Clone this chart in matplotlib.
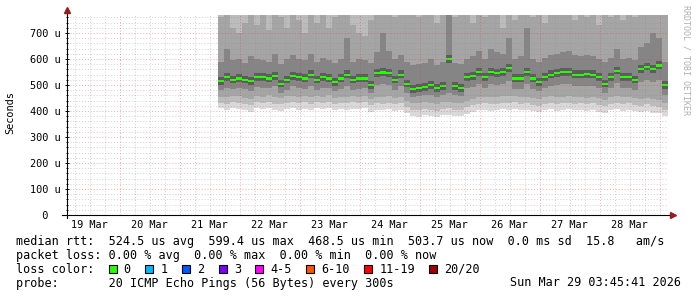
import numpy as np
import pandas as pd
import matplotlib
matplotlib.use("Agg")
import matplotlib.pyplot as plt
from matplotlib.patches import Rectangle

# ---- values (microseconds) ----
sample_start = "2026-03-21 15:30"
sample_step = "144min"

median_us = [515, 530, 520, 525, 520, 515, 530, 530, 525, 535,
             505, 520, 535, 530, 525, 540, 520, 530, 525, 512,
             525, 540, 520, 525, 525, 500, 545, 548, 545, 520,
             540, 505, 485, 488, 492, 500, 488, 495, 600, 495,
             488, 530, 535, 550, 530, 550, 545, 550, 565, 525,
             525, 550, 525, 512, 530, 540, 545, 550, 550, 540,
             540, 542, 540, 530, 505, 530, 555, 530, 530, 520,
             560, 570, 560, 575, 500]

ping_min_us = [410, 405, 412, 408, 403, 398, 410, 406, 412, 404,
               400, 408, 410, 405, 409, 402, 410, 406, 411, 403,
               407, 404, 409, 406, 410, 398, 405, 402, 406, 400,
               404, 392, 382, 378, 385, 380, 376, 384, 386, 381,
               379, 390, 398, 402, 405, 400, 403, 407, 404, 408,
               402, 405, 399, 395, 403, 406, 401, 404, 407, 402,
               405, 400, 404, 398, 392, 403, 406, 401, 404, 399,
               396, 400, 394, 392, 380]

ping_q1_us = [430, 428, 435, 432, 426, 424, 434, 430, 436, 428,
              425, 432, 434, 430, 433, 427, 435, 430, 436, 428,
              431, 429, 434, 430, 434, 422, 430, 427, 431, 425,
              429, 415, 405, 402, 408, 404, 400, 407, 410, 405,
              403, 414, 423, 428, 430, 426, 428, 432, 430, 433,
              427, 430, 424, 420, 428, 431, 426, 429, 432, 428,
              430, 425, 429, 423, 418, 428, 431, 426, 429, 424,
              421, 425, 419, 417, 405]

ping_q2_us = [455, 452, 458, 456, 450, 448, 458, 455, 460, 452,
              450, 456, 458, 454, 457, 452, 458, 455, 460, 451,
              455, 453, 457, 454, 458, 447, 455, 452, 456, 450,
              453, 440, 432, 430, 434, 432, 428, 434, 436, 432,
              430, 440, 448, 454, 455, 452, 454, 457, 456, 458,
              452, 455, 450, 447, 453, 456, 452, 454, 457, 454,
              455, 451, 454, 449, 444, 453, 456, 452, 454, 450,
              448, 451, 446, 444, 432]

ping_q3_us = [480, 490, 485, 488, 484, 475, 492, 490, 488, 495,
              470, 482, 495, 490, 486, 498, 482, 490, 487, 476,
              486, 498, 482, 486, 487, 468, 500, 502, 500, 480,
              495, 470, 455, 456, 460, 462, 455, 460, 470, 461,
              456, 488, 492, 505, 490, 505, 500, 505, 515, 486,
              486, 505, 486, 475, 490, 497, 500, 505, 505, 497,
              497, 498, 496, 488, 470, 490, 508, 490, 490, 482,
              510, 518, 510, 520, 462]

ping_q4_us = [590, 640, 595, 600, 585, 610, 600, 595, 590, 620,
              580, 600, 615, 600, 595, 620, 590, 605, 595, 585,
              600, 680, 590, 600, 595, 585, 625, 700, 630, 600,
              615, 590, 575, 580, 585, 600, 575, 590, 800, 585,
              580, 600, 610, 630, 600, 640, 625, 620, 680, 600,
              610, 720, 600, 590, 605, 615, 620, 625, 630, 615,
              610, 615, 610, 600, 590, 605, 640, 600, 605, 595,
              645, 660, 700, 680, 590]

ping_q5_us = [760, 790, 720, 700, 740, 790, 730, 780, 710, 790,
              760, 720, 790, 750, 700, 790, 740, 790, 720, 760,
              790, 790, 730, 700, 690, 750, 790, 790, 790, 760,
              790, 770, 790, 760, 790, 790, 740, 790, 790, 760,
              790, 790, 740, 790, 760, 790, 790, 720, 790, 750,
              790, 790, 760, 790, 740, 790, 770, 790, 790, 750,
              790, 760, 790, 730, 790, 760, 790, 750, 790, 760,
              790, 790, 790, 790, 790]

day_labels = ["19 Mar", "20 Mar", "21 Mar", "22 Mar", "23 Mar",
              "24 Mar", "25 Mar", "26 Mar", "27 Mar", "28 Mar"]
y_ticks = [0, 100, 200, 300, 400, 500, 600, 700]
y_tick_labels = ["  0", "100 u", "200 u", "300 u", "400 u", "500 u", "600 u", "700 u"]

loss_labels = ["0", "1", "2", "3", "4-5", "6-10", "11-19", "20/20"]
loss_colors = ["#26ff00", "#00b8ff", "#0059ff", "#7e00ff",
               "#ff00ff", "#ff5500", "#ff0000", "#a10000"]

row_rtt = "median rtt:  524.5 us avg  599.4 us max  468.5 us min  503.7 us now  0.0 ms sd  15.8   am/s"
row_loss = "packet loss: 0.00 % avg  0.00 % max  0.00 % min  0.00 % now"
row_probe = "probe:       20 ICMP Echo Pings (56 Bytes) every 300s"
stamp = "Sun Mar 29 03:45:41 2026"

# ---- figure ----
W, H = 697, 297
MONO = "DejaVu Sans Mono"
plt.rcParams["font.family"] = [MONO]

fig = plt.figure(figsize=(W / 100, H / 100), dpi=100)
ax = fig.add_axes([67 / W, 82 / H, 600 / W, 200 / H])

t0 = pd.Timestamp("2026-03-19 03:00")
t1 = pd.Timestamp("2026-03-29 03:00")
y_top = 769.2

ts = pd.date_range(sample_start, periods=len(median_us) + 1, freq=sample_step)


def ext(v):
    # repeat the last sample so the final step is drawn
    v = np.asarray(v, dtype=float)
    return np.append(v, v[-1])


# smoke: nested bands, lighter outside, darker toward the median
top = np.full(len(ts), 900.0)
ax.fill_between(ts, ext(ping_min_us), top, step="post", color="#d9d9d9", lw=0, zorder=2)
ax.fill_between(ts, ext(ping_q1_us), top, step="post", color="#bcbcbc", lw=0, zorder=2)
ax.fill_between(ts, ext(ping_q2_us), ext(ping_q5_us), step="post", color="#a5a5a5", lw=0, zorder=2)
ax.fill_between(ts, ext(ping_q3_us), ext(ping_q4_us), step="post", color="#858585", lw=0, zorder=2)
med = ext(median_us)
ax.fill_between(ts, med - 14, med + 16, step="post", color="#5c5c5c", lw=0, zorder=2)
ax.fill_between(ts, med - 4, med + 4, step="post", color=loss_colors[0], lw=0, zorder=3)

# grid (6 h minor, midnight major; 20 u minor, 100 u major)
for t in pd.date_range("2026-03-19 06:00", t1, freq="6h"):
    if t.hour == 0:
        ax.axvline(t, color=(0.85, 0.2, 0.2, 0.4), lw=0.7, ls=(0, (1, 2)), zorder=4)
    else:
        ax.axvline(t, color=(0.55, 0.55, 0.55, 0.4), lw=0.7, ls=(0, (1, 2)), zorder=4)
for v in np.arange(20, y_top, 20):
    if v % 100 == 0:
        ax.axhline(v, color=(0.85, 0.2, 0.2, 0.4), lw=0.7, ls=(0, (1, 2)), zorder=4)
    else:
        ax.axhline(v, color=(0.55, 0.55, 0.55, 0.4), lw=0.7, ls=(0, (1, 2)), zorder=4)

ax.set_xlim(t0, t1)
ax.set_ylim(0, y_top)
for s in ax.spines.values():
    s.set_visible(False)

noons = pd.date_range("2026-03-19 12:00", periods=len(day_labels), freq="D")
ax.set_xticks(noons, day_labels)
ax.tick_params(axis="x", length=0, pad=3.4, labelsize=7.4)

ax.set_yticks(y_ticks, y_tick_labels)
ax.set_yticks(np.arange(0, y_top, 20), minor=True)
ax.tick_params(axis="y", which="major", direction="inout", length=3, width=0.7, pad=25.1, labelsize=7.4)
ax.tick_params(axis="y", which="minor", direction="inout", length=1.5, width=0.7)
for lab in ax.get_yticklabels():
    lab.set_horizontalalignment("left")

# axis lines with arrow heads
ax.plot([-5 / 600, 1 + 4 / 600], [0, 0], transform=ax.transAxes, color="black", lw=0.8, clip_on=False, zorder=5)
ax.plot([0, 0], [-3 / 200, 1 + 3 / 200], transform=ax.transAxes, color="black", lw=0.8, clip_on=False, zorder=5)
ax.plot([1 + 6 / 600], [0], transform=ax.transAxes, marker=">", ms=4.5, color="#9b1c1c", clip_on=False, zorder=6)
ax.plot([0], [1 + 5 / 200], transform=ax.transAxes, marker="^", ms=4.5, color="#9b1c1c", clip_on=False, zorder=6)

fig.text(10 / W, 1 - 113 / H, "Seconds", rotation=90, ha="center", va="center", fontsize=7.4)
fig.text(686 / W, 1 - 5 / H, "RRDTOOL / TOBI OETIKER", rotation=270, ha="center", va="top",
         fontsize=6, color="#b0b0b0")


# ---- legend rows ----
def row(y, s, x=16, ha="left"):
    fig.text(x / W, 1 - y / H, s, ha=ha, va="center", fontsize=8.5)


row(241.5, row_rtt)
row(255.2, row_loss)
row(269.2, "loss color:")
row(283.0, row_probe)
row(283.0, stamp, x=681, ha="right")

cw = 7.08
bx = 108.7
for lab, col in zip(loss_labels, loss_colors):
    fig.patches.append(Rectangle((bx / W, 1 - 273.3 / H), 8 / W, 8 / H,
                                 transform=fig.transFigure, facecolor=col,
                                 edgecolor="black", lw=0.8))
    row(269.2, lab, x=bx + 15)
    bx += 15 + len(lab) * cw + 14.6

fig.savefig("out.png", dpi=100, facecolor="white")
